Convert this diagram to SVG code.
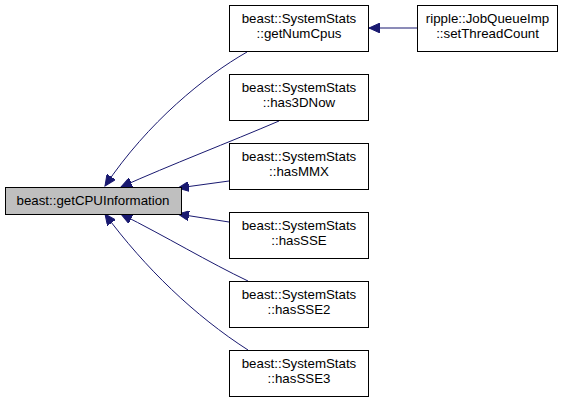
<svg xmlns="http://www.w3.org/2000/svg" width="565" height="403" viewBox="0 0 565 403">
<defs>
<style>
.n rect{fill:#fff;stroke:#000;stroke-width:1}
.m rect{fill:#bfbfbf;stroke:#000;stroke-width:1}
text{font-family:"Liberation Sans",Arial,sans-serif;font-size:13.3px;fill:#000;text-anchor:middle}
.e path{fill:none;stroke:#191970;stroke-width:1;marker-end:url(#ah)}
</style>
<marker id="ah" markerUnits="userSpaceOnUse" markerWidth="12" markerHeight="10" refX="11" refY="5" orient="auto">
<path d="M0,0 L11,5 L0,10 Z" fill="#191970" stroke="#191970"/>
</marker>
</defs>
<rect width="565" height="403" fill="#fff"/>
<g class="e" id="edges">
<path d="M417,28 L369,28"/>
<path d="M247,52 C205,76 148,122 105,186"/>
<path d="M279,121 C230,142 170,165 121,187"/>
<path d="M229,181 L178,188"/>
<path d="M229,222 L178,214"/>
<path d="M248,281 C210,263 165,236 121,214"/>
<path d="M248,350 C195,316 145,268 105,214"/>
</g>
<g class="m" id="main"><rect x="5.5" y="187.5" width="176" height="27"/><text x="93" y="205">beast::getCPUInformation</text></g>
<g class="n" id="getNumCpus"><rect x="229.5" y="5.5" width="139" height="46"/><text x="299" y="23">beast::SystemStats</text><text x="299" y="38">::getNumCpus</text></g>
<g class="n" id="setThreadCount"><rect x="417.5" y="5.5" width="140" height="46"/><text x="487.5" y="23">ripple::JobQueueImp</text><text x="487.5" y="38">::setThreadCount</text></g>
<g class="n" id="has3DNow"><rect x="229.5" y="74.5" width="139" height="46"/><text x="299" y="92">beast::SystemStats</text><text x="299" y="107">::has3DNow</text></g>
<g class="n" id="hasMMX"><rect x="229.5" y="143.5" width="139" height="46"/><text x="299" y="161">beast::SystemStats</text><text x="299" y="176">::hasMMX</text></g>
<g class="n" id="hasSSE"><rect x="229.5" y="212.5" width="139" height="46"/><text x="299" y="230">beast::SystemStats</text><text x="299" y="245">::hasSSE</text></g>
<g class="n" id="hasSSE2"><rect x="229.5" y="281.5" width="139" height="46"/><text x="299" y="299">beast::SystemStats</text><text x="299" y="314">::hasSSE2</text></g>
<g class="n" id="hasSSE3"><rect x="229.5" y="350.5" width="139" height="46"/><text x="299" y="368">beast::SystemStats</text><text x="299" y="383">::hasSSE3</text></g>
</svg>
